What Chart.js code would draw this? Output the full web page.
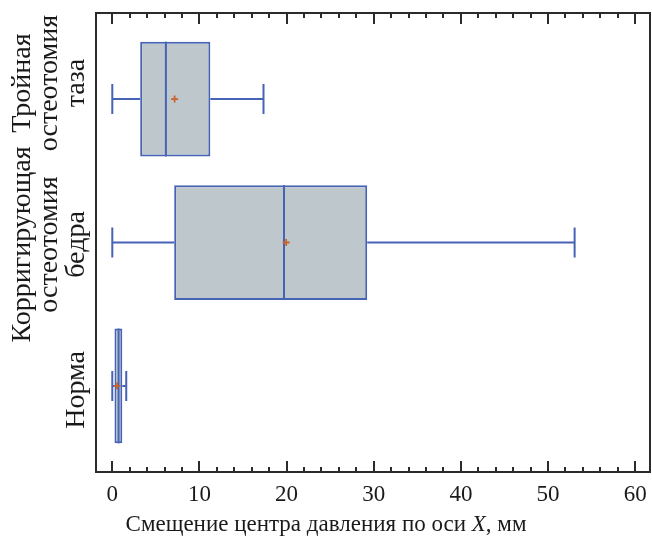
<!DOCTYPE html>
<html>
<head>
<meta charset="utf-8">
<script src="https://cdn.jsdelivr.net/npm/chart.js@4.4.1/dist/chart.umd.min.js"></script>
<style>
  html, body { margin: 0; padding: 0; background: #fff; }
  #wrap { width: 652px; height: 541px; }
</style>
</head>
<body>
<div id="wrap"><canvas id="c" width="652" height="541"></canvas></div>
<script>
// ---- data ----
const categories = ['Норма', 'Корригирующая остеотомия бедра', 'Тройная остеотомия таза'];
const categoryLines = [['Норма'], ['Корригирующая', 'остеотомия', 'бедра'], ['Тройная', 'остеотомия', 'таза']];
const positions = [1, 2, 3];
const whiskerMin = [0, 0, 0];
const q1 = [0.25, 7.1, 3.2];
const median = [0.72, 19.7, 6.15];
const q3 = [1.15, 29.25, 11.25];
const whiskerMax = [1.6, 53.05, 17.35];
const mean = [0.55, 19.95, 7.15];
const xTicks = [0, 10, 20, 30, 40, 50, 60];
const xTitleParts = [['Смещение центра давления по оси ', 'normal'], ['X', 'italic'], [', мм', 'normal']];

// ---- style ----
const LINE = '#4763b5';
const FILL = '#bec7cb';
const MEAN = '#c8642c';
const FRAME = '#2b2b2b';
const FONT = '"Liberation Serif", "DejaVu Serif", serif';
const BOX_HALF = 0.4;
const CAP_HALF = 0.105;
const LABEL_SHIFT = [4, 2, -16]; // px nudges of the category label blocks

const boxPlugin = {
  id: 'boxExtras',
  beforeDatasetsDraw(chart) {
    const ctx = chart.ctx, xs = chart.scales.x, ys = chart.scales.y;
    ctx.save();
    ctx.strokeStyle = LINE;
    ctx.lineWidth = 2;
    positions.forEach((p, i) => {
      const y = ys.getPixelForValue(p);
      const yT = ys.getPixelForValue(p + CAP_HALF), yB = ys.getPixelForValue(p - CAP_HALF);
      const xMin = xs.getPixelForValue(whiskerMin[i]), xQ1 = xs.getPixelForValue(q1[i]);
      const xQ3 = xs.getPixelForValue(q3[i]), xMax = xs.getPixelForValue(whiskerMax[i]);
      ctx.beginPath();
      ctx.moveTo(xMin, y); ctx.lineTo(xQ1, y);
      ctx.moveTo(xQ3, y); ctx.lineTo(xMax, y);
      ctx.moveTo(xMin, yT); ctx.lineTo(xMin, yB);
      ctx.moveTo(xMax, yT); ctx.lineTo(xMax, yB);
      ctx.stroke();
    });
    ctx.restore();
  },
  afterDatasetsDraw(chart) {
    const ctx = chart.ctx, xs = chart.scales.x, ys = chart.scales.y;
    const area = chart.chartArea;
    ctx.save();
    // medians
    ctx.strokeStyle = LINE;
    ctx.lineWidth = 2;
    positions.forEach((p, i) => {
      const xm = xs.getPixelForValue(median[i]);
      ctx.beginPath();
      ctx.moveTo(xm, ys.getPixelForValue(p + BOX_HALF));
      ctx.lineTo(xm, ys.getPixelForValue(p - BOX_HALF));
      ctx.stroke();
    });
    // means
    ctx.strokeStyle = MEAN;
    ctx.lineWidth = 1.8;
    positions.forEach((p, i) => {
      const x = xs.getPixelForValue(mean[i]), y = ys.getPixelForValue(p);
      ctx.beginPath();
      ctx.moveTo(x - 3.5, y); ctx.lineTo(x + 3.5, y);
      ctx.moveTo(x, y - 3.5); ctx.lineTo(x, y + 3.5);
      ctx.stroke();
    });
    // frame
    ctx.strokeStyle = FRAME;
    ctx.lineWidth = 2;
    ctx.strokeRect(area.left, area.top, area.right - area.left, area.bottom - area.top);
    // inward ticks top & bottom
    const step = (xTicks[1] - xTicks[0]) / 5;
    for (let v = xTicks[0]; v <= xTicks[xTicks.length - 1] + 1e-9; v += step) {
      const isMajor = xTicks.some(t => Math.abs(t - v) < 1e-6);
      const len = isMajor ? 11 : 5;
      const x = Math.round(xs.getPixelForValue(v));
      ctx.beginPath();
      ctx.moveTo(x, area.top); ctx.lineTo(x, area.top + len);
      ctx.moveTo(x, area.bottom); ctx.lineTo(x, area.bottom - len);
      ctx.stroke();
    }
    // category labels (rotated)
    ctx.fillStyle = '#1a1a1a';
    ctx.font = '28px ' + FONT;
    ctx.textAlign = 'center';
    ctx.textBaseline = 'middle';
    const lineGap = 27, lastX = 77;
    positions.forEach((p, i) => {
      const y = ys.getPixelForValue(p) + LABEL_SHIFT[i];
      const lines = categoryLines[i];
      lines.forEach((ln, k) => {
        const x = lastX - (lines.length - 1 - k) * lineGap;
        ctx.save();
        ctx.translate(x, y);
        ctx.rotate(-Math.PI / 2);
        ctx.fillText(ln, 0, 0);
        ctx.restore();
      });
    });
    // x title with italic X
    ctx.textBaseline = 'alphabetic';
    ctx.textAlign = 'left';
    const size = 23;
    let total = 0;
    xTitleParts.forEach(([t, st]) => { ctx.font = st + ' ' + size + 'px ' + FONT; total += ctx.measureText(t).width; });
    let tx = chart.width / 2 - total / 2;
    const ty = 531;
    xTitleParts.forEach(([t, st]) => {
      ctx.font = st + ' ' + size + 'px ' + FONT;
      ctx.fillText(t, tx, ty);
      tx += ctx.measureText(t).width;
    });
    ctx.restore();
  }
};

new Chart(document.getElementById('c'), {
  type: 'bar',
  data: {
    datasets: [{
      data: positions.map((p, i) => ({ x: [q1[i], q3[i]], y: p })),
      backgroundColor: FILL,
      borderColor: LINE,
      borderWidth: 2,
      borderSkipped: false,
      categoryPercentage: 2 * BOX_HALF,
      barPercentage: 1
    }]
  },
  options: {
    indexAxis: 'y',
    responsive: false,
    animation: false,
    devicePixelRatio: 1,
    layout: { padding: { top: 13, right: 2, left: 0, bottom: 0 } },
    plugins: { legend: { display: false }, tooltip: { enabled: false }, title: { display: false } },
    scales: {
      x: {
        type: 'linear',
        min: -1.87,
        max: 61.7,
        offset: false,
        afterBuildTicks: s => { s.ticks = xTicks.map(v => ({ value: v })); },
        afterFit: s => { s.height = 69; s.paddingLeft = 0; s.paddingRight = 0; },
        grid: { display: false, drawTicks: false },
        border: { display: false },
        ticks: { color: '#1a1a1a', padding: 9, font: { family: FONT, size: 23 }, maxRotation: 0 }
      },
      y: {
        type: 'linear',
        min: 0.4,
        max: 3.6,
        offset: false,
        afterBuildTicks: s => { s.ticks = positions.map(v => ({ value: v })); },
        afterFit: s => { s.width = 96; s.paddingTop = 0; s.paddingBottom = 0; },
        grid: { display: false, drawTicks: false },
        border: { display: false },
        ticks: { display: false }
      }
    }
  },
  plugins: [boxPlugin]
});
</script>
</body>
</html>
